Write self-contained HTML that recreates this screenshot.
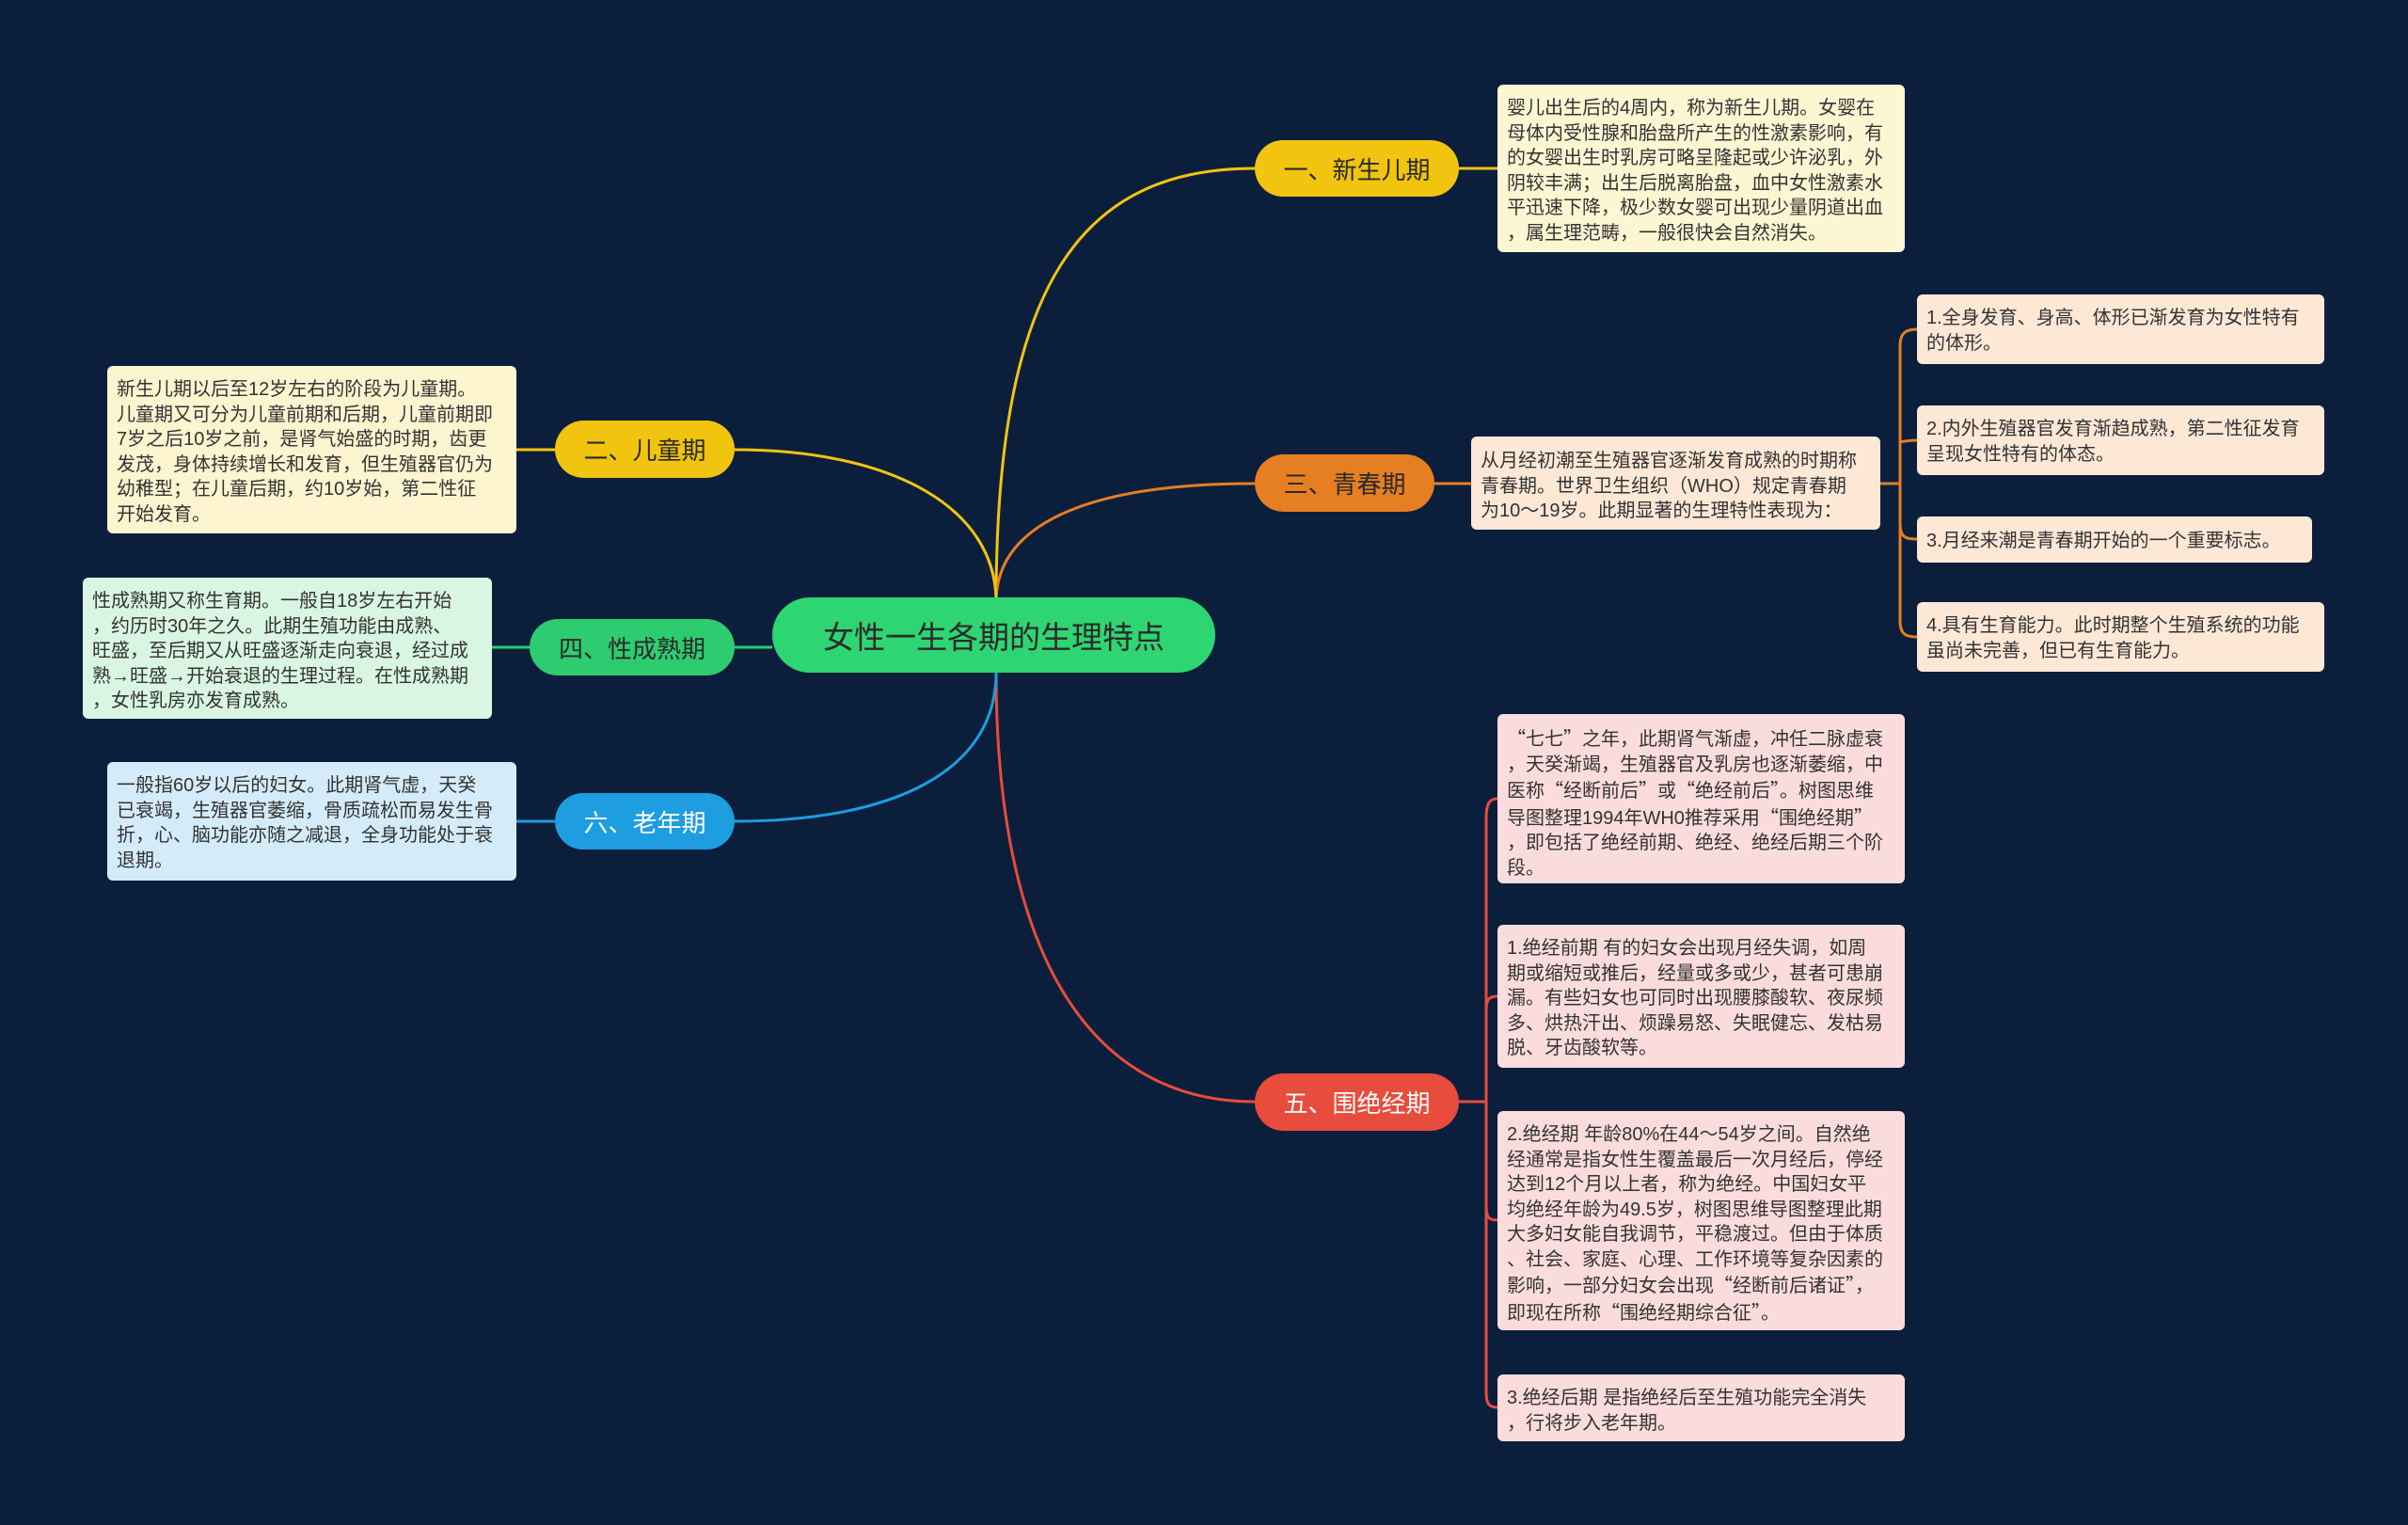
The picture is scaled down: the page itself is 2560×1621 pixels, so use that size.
<!DOCTYPE html>
<html><head><meta charset="utf-8">
<style>
html,body{margin:0;padding:0;}
body{width:2560px;height:1621px;background:#0b1f3d;position:relative;overflow:hidden;font-family:"Liberation Sans","Noto Sans CJK SC",sans-serif;}
svg{position:absolute;left:0;top:0;}
.n{position:absolute;display:flex;align-items:center;justify-content:center;border-radius:31px;font-size:26px;color:#2a2a2a;box-sizing:border-box;white-space:nowrap;}
.t{position:absolute;box-sizing:border-box;border-radius:6px;padding:12px 10px 9px;font-size:20px;line-height:26.5px;color:#333;white-space:nowrap;}
.q{font-family:"Noto Sans CJK SC",sans-serif;}
</style></head><body>
<svg width="2560" height="1621" fill="none" stroke-width="3">
<path d="M1059 640 C1059 300,1150 179,1334 179" stroke="#f1c40f"/>
<path d="M1059 640 C1059 560,1150 514,1334 514" stroke="#e67e22"/>
<path d="M1059 715 C1059 1000,1150 1171,1334 1171" stroke="#e74c3c"/>
<path d="M1059 640 C1059 540,950 478,781 478" stroke="#f1c40f"/>
<path d="M821 688 L781 688" stroke="#2ecc71"/>
<path d="M1059 715 C1059 820,950 873,781 873" stroke="#1e9de0"/>
<path d="M1551 179 L1592 179" stroke="#f1c40f"/>
<path d="M1525 514 L1564 514" stroke="#e67e22"/>
<path d="M590 478 L549 478" stroke="#f1c40f"/>
<path d="M563 688 L523 688" stroke="#2ecc71"/>
<path d="M590 873 L549 873" stroke="#1e9de0"/>
<g stroke="#e67e22">
<path d="M1999 514 L2020 514"/>
<path d="M2038 350 C2025 350,2020 355,2020 368 L2020 660 C2020 673,2025 677,2038 677"/>
<path d="M2020 468 C2020 471,2025 468,2038 468"/>
<path d="M2020 555 C2020 571,2025 573,2038 573"/>
</g>
<g stroke="#e74c3c">
<path d="M1551 1171 L1580 1171"/>
<path d="M1592 849 C1583 849,1580 855,1580 870 L1580 1480 C1580 1492,1583 1496,1592 1496"/>
<path d="M1580 1075 C1580 1062,1583 1059,1592 1059"/>
<path d="M1580 1280 C1580 1295,1583 1297,1592 1297"/>
</g>
</svg>

<div class="n" style="left:821px;top:635px;width:471px;height:80px;background:#2ed573;border-radius:40px;font-size:33px;">女性一生各期的生理特点</div>
<div class="n" style="left:1334px;top:149px;width:217px;height:60px;background:#f1c40f;">一、新生儿期</div>
<div class="n" style="left:1334px;top:483px;width:191px;height:61px;background:#e67e22;">三、青春期</div>
<div class="n" style="left:1334px;top:1141px;width:217px;height:61px;background:#e74c3c;color:#fff;">五、围绝经期</div>
<div class="n" style="left:590px;top:447px;width:191px;height:61px;background:#f1c40f;">二、儿童期</div>
<div class="n" style="left:563px;top:658px;width:218px;height:60px;background:#2ecc71;">四、性成熟期</div>
<div class="n" style="left:590px;top:843px;width:191px;height:60px;background:#1e9de0;color:#fff;">六、老年期</div>

<div class="t" style="left:1592px;top:90px;width:433px;height:178px;background:#fdf6d3;">婴儿出生后的4周内，称为新生儿期。女婴在<br>母体内受性腺和胎盘所产生的性激素影响，有<br>的女婴出生时乳房可略呈隆起或少许泌乳，外<br>阴较丰满；出生后脱离胎盘，血中女性激素水<br>平迅速下降，极少数女婴可出现少量阴道出血<br>，属生理范畴，一般很快会自然消失。</div>
<div class="t" style="left:1564px;top:464px;width:435px;height:99px;background:#fde8d6;padding-top:13px;">从月经初潮至生殖器官逐渐发育成熟的时期称<br>青春期。世界卫生组织（WHO）规定青春期<br>为10～19岁。此期显著的生理特性表现为：</div>
<div class="t" style="left:2038px;top:313px;width:433px;height:74px;background:#fde8d6;">1.全身发育、身高、体形已渐发育为女性特有<br>的体形。</div>
<div class="t" style="left:2038px;top:431px;width:433px;height:74px;background:#fde8d6;">2.内外生殖器官发育渐趋成熟，第二性征发育<br>呈现女性特有的体态。</div>
<div class="t" style="left:2038px;top:549px;width:420px;height:49px;background:#fde8d6;padding-top:13px;">3.月经来潮是青春期开始的一个重要标志。</div>
<div class="t" style="left:2038px;top:640px;width:433px;height:74px;background:#fde8d6;">4.具有生育能力。此时期整个生殖系统的功能<br>虽尚未完善，但已有生育能力。</div>

<div class="t" style="left:1592px;top:759px;width:433px;height:180px;background:#fbdcdc;"><span class="q">“</span>七七<span class="q">”</span>之年，此期肾气渐虚，冲任二脉虚衰<br>，天癸渐竭，生殖器官及乳房也逐渐萎缩，中<br>医称<span class="q">“</span>经断前后<span class="q">”</span>或<span class="q">“</span>绝经前后<span class="q">”</span>。树图思维<br>导图整理1994年WH0推荐采用<span class="q">“</span>围绝经期<span class="q">”</span><br>，即包括了绝经前期、绝经、绝经后期三个阶<br>段。</div>
<div class="t" style="left:1592px;top:983px;width:433px;height:152px;background:#fbdcdc;">1.绝经前期 有的妇女会出现月经失调，如周<br>期或缩短或推后，经量或多或少，甚者可患崩<br>漏。有些妇女也可同时出现腰膝酸软、夜尿频<br>多、烘热汗出、烦躁易怒、失眠健忘、发枯易<br>脱、牙齿酸软等。</div>
<div class="t" style="left:1592px;top:1181px;width:433px;height:233px;background:#fbdcdc;">2.绝经期 年龄80%在44～54岁之间。自然绝<br>经通常是指女性生覆盖最后一次月经后，停经<br>达到12个月以上者，称为绝经。中国妇女平<br>均绝经年龄为49.5岁，树图思维导图整理此期<br>大多妇女能自我调节，平稳渡过。但由于体质<br>、社会、家庭、心理、工作环境等复杂因素的<br>影响，一部分妇女会出现<span class="q">“</span>经断前后诸证<span class="q">”</span>，<br>即现在所称<span class="q">“</span>围绝经期综合征<span class="q">”</span>。</div>
<div class="t" style="left:1592px;top:1461px;width:433px;height:71px;background:#fbdcdc;">3.绝经后期 是指绝经后至生殖功能完全消失<br>，行将步入老年期。</div>

<div class="t" style="left:114px;top:389px;width:435px;height:178px;background:#fdf4d0;">新生儿期以后至12岁左右的阶段为儿童期。<br>儿童期又可分为儿童前期和后期，儿童前期即<br>7岁之后10岁之前，是肾气始盛的时期，齿更<br>发茂，身体持续增长和发育，但生殖器官仍为<br>幼稚型；在儿童后期，约10岁始，第二性征<br>开始发育。</div>
<div class="t" style="left:88px;top:614px;width:435px;height:150px;background:#d9f6e3;">性成熟期又称生育期。一般自18岁左右开始<br>，约历时30年之久。此期生殖功能由成熟、<br>旺盛，至后期又从旺盛逐渐走向衰退，经过成<br>熟→旺盛→开始衰退的生理过程。在性成熟期<br>，女性乳房亦发育成熟。</div>
<div class="t" style="left:114px;top:810px;width:435px;height:126px;background:#d4ecf9;">一般指60岁以后的妇女。此期肾气虚，天癸<br>已衰竭，生殖器官萎缩，骨质疏松而易发生骨<br>折，心、脑功能亦随之减退，全身功能处于衰<br>退期。</div>
</body></html>
